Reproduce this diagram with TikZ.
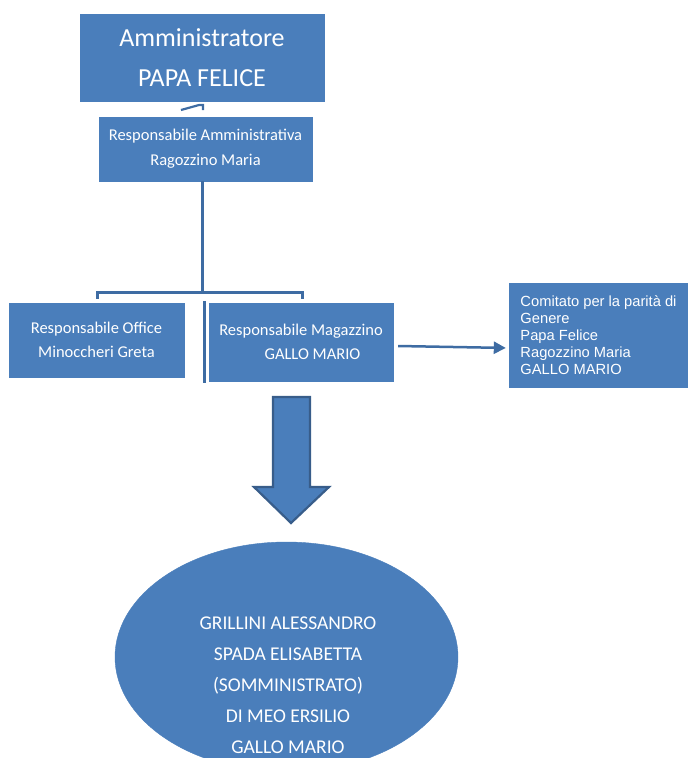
\documentclass[tikz,border=0pt]{standalone}
\usepackage{fontspec}
\usetikzlibrary{shapes.geometric,arrows.meta,calc}
\newfontfamily\calfont{Carlito}
\newfontfamily\arifont{Liberation Sans}
\definecolor{boxblue}{HTML}{4A7EBB}
\definecolor{lineblue}{HTML}{3E6CA3}
\definecolor{arrowedge}{HTML}{385D8A}
\tikzset{
  orgbox/.style={rectangle, fill=boxblue, draw=boxblue, text=white, inner sep=0pt, align=center, font=\calfont},
  conn/.style={draw=lineblue, line width=3pt},
}
\begin{document}
\begin{tikzpicture}[x=1pt,y=-1pt]
\useasboundingbox (0,0) rectangle (688,758);
% boxes
\node[orgbox, minimum width=244pt, minimum height=87pt, font=\calfont\fontsize{26}{40}\selectfont] (adm) at (202,57.5) {Amministratore\\PAPA FELICE};
\node[orgbox, minimum width=213pt, minimum height=64pt, font=\calfont\fontsize{16.5}{25}\selectfont] (ra) at (205.5,149) {Responsabile Amministrativa\\Ragozzino Maria};
\node[orgbox, minimum width=175pt, minimum height=74pt, font=\calfont\fontsize{16.5}{24}\selectfont] (off) at (96.5,340) {Responsabile Office\\Minoccheri Greta};
\node[orgbox, minimum width=184pt, minimum height=78pt, font=\calfont\fontsize{16.5}{24}\selectfont] (mag) at (301,342) {Responsabile Magazzino\\\hspace*{23pt}GALLO MARIO};
\node[orgbox, minimum width=179pt, minimum height=104pt, align=left, font=\arifont\fontsize{14.7}{17}\selectfont] (com) at (598.5,335) {Comitato per la parità di\\Genere\\Papa Felice\\Ragozzino Maria\\GALLO MARIO};
% ellipse
\node[ellipse, fill=boxblue, draw=boxblue, minimum width=343pt, minimum height=230pt, inner sep=0pt] (ell) at (286.5,657) {};
\node[text=white, align=center, font=\calfont\fontsize{19.5}{31}\selectfont] (elltext) at (288,685) {GRILLINI ALESSANDRO\\SPADA ELISABETTA\\(SOMMINISTRATO)\\DI MEO ERSILIO\\GALLO MARIO};
% block arrow
\draw[fill=boxblue, draw=arrowedge, line width=2.2pt, line join=miter]
  (273,397) -- (310,397) -- (310,487) -- (329,487) -- (291,523) -- (254,487) -- (273,487) -- cycle;
% small stroke under top box
\coordinate (t1) at (181,110);
\coordinate (t2) at (199,105);
\coordinate (t3) at (203,105);
\coordinate (t4) at (203,110);
\draw[draw=lineblue, line width=2.2pt] (t1) -- (t2) -- (t3) -- (t4);
% tree connectors
\coordinate (junction) at (202,292);
\draw[conn] ([xshift=-3.5pt]ra.south) -- (junction);
\draw[conn] ([xshift=0.5pt,yshift=4pt]off.north) |- (junction) -| ([xshift=1pt,yshift=4pt]mag.north);
% separator line
\coordinate (sepTop) at (204,301);
\coordinate (sepBot) at (204,383);
\draw[conn] (sepTop) -- (sepBot);
% arrow to committee
\draw[draw=lineblue, line width=2.5pt, -{Triangle[length=12pt,width=12pt]}, shorten >=3pt]
  ([xshift=5pt,yshift=-4pt]mag.east) -- ([yshift=-13pt]com.west);
\end{tikzpicture}
\end{document}
